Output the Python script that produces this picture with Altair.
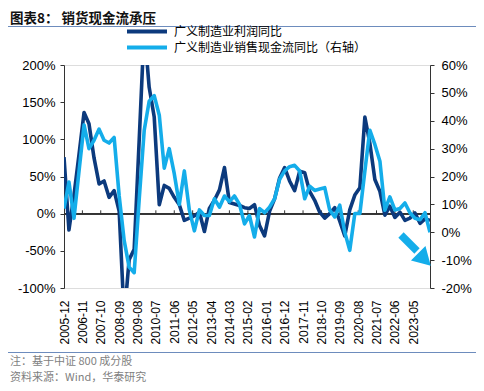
import altair as alt
import pandas as pd

# ---------------- data ----------------
series_names = ["广义制造业利润同比", "广义制造业销售现金流同比（右轴）"]

# quarterly, first point 2005-12
profit_yoy = [76, -22, 25, 80, 136, 121, 75, 40, 44, 22,
              31, 3, -140, -62, -48, 100, 250, 170, 130, 12,
              38, 34, 22, 12, -9, -6, -3, 2, -24, 7,
              18, 32, 62, 15, 13, 11, 8, 7, 12, -16,
              -30, 3, 20, 48, 62, 44, 31, 57, 55, 30,
              18, 2, -6, 0, 8, -10, -30, 5, 25, 35,
              130, 95, 46, 30, -2, 10, -5, 2, -9, -6,
              1, -13, -7, -9]

cashflow_yoy = [8.5, 18, 5, 22, 38.5, 30, 33, 37, 33, 32,
                34, 13, -3, -12.5, -14.5, 12, 36.6, 47, 49, 42,
                23, 30, 21, 10, 22, 8, 0.5, 8, 6, 6,
                12, 9, 13, 11, 13, 10, 3, 6, -1.7, 8.5,
                7, 9, 12, 19, 22, 23.5, 24, 22, 12, 16.5,
                15, 15.5, 16, 8, 5.5, 9.7, 0, -6.5, 6.7, 6.7,
                22, 36.6, 31.5, 25.5, 7.9, 12.7, 8, 8.5, 10.5, 7,
                5, 4.5, 7, 0]

tick_labels = ["2005-12", "2006-11", "2007-10", "2008-09", "2009-08",
               "2010-07", "2011-06", "2012-05", "2013-04", "2014-03",
               "2015-02", "2016-01", "2016-12", "2017-11", "2018-10",
               "2019-09", "2020-08", "2021-07", "2022-06", "2023-05"]

left_ticks = [-100, -50, 0, 50, 100, 150, 200]
right_ticks = [-20, -10, 0, 10, 20, 30, 40, 50, 60]

title_text = ["图表8：  销货现金流承压"]
note_source = ["注：基于中证 800 成分股"]
note_wind = ["资料来源：Wind，华泰研究"]

DARK = "#0c3a7d"
LIGHT = "#14adea"
AXIS = "#333333"
CJK = "Noto Sans CJK SC"
LATIN = "Liberation Sans"

# ---------------- build tables ----------------
dates = []
yy, mm = 2005, 12
for _ in range(len(profit_yoy)):
    dates.append(f"{yy:04d}-{mm:02d}-01")
    mm += 3
    if mm > 12:
        mm -= 12
        yy += 1


def to_ms(s):
    return int(pd.Timestamp(s, tz="UTC").value // 10**6)


df_p = pd.DataFrame({"date": dates, "value": profit_yoy, "series": series_names[0]})
df_c = pd.DataFrame({"date": dates, "value": cashflow_yoy, "series": series_names[1]})
tick_dates = [t + "-01" for t in tick_labels]
df_ticks = pd.DataFrame({"date": tick_dates[1:]})
tick_ms = [to_ms(d) for d in tick_dates]

x_scale = alt.Scale(type="utc", domain=[to_ms(dates[0]), to_ms(dates[-1])], nice=False)
x_axis = alt.Axis(values=tick_ms, labelExpr="utcFormat(datum.value, '%Y-%m')",
                  labelAngle=270, domain=False, ticks=False, grid=False,
                  labelPadding=12, labelFont=LATIN, labelFontSize=12,
                  labelColor="#000", labelOverlap=False, labelFlush=False, title=None)
x_enc = alt.X("date:T", scale=x_scale, axis=x_axis)

color_enc = alt.Color(
    "series:N",
    scale=alt.Scale(domain=series_names, range=[DARK, LIGHT]),
    legend=alt.Legend(orient="none", legendX=61, legendY=-40.5, direction="vertical",
                      symbolType="stroke", symbolSize=1600, symbolStrokeWidth=4,
                      clipHeight=14, rowPadding=2, labelFont=CJK, labelFontSize=12,
                      labelColor="#000", labelOffset=5, labelLimit=400, title=None,
                      padding=0),
)

left_axis = alt.Axis(values=left_ticks, labelExpr="datum.value + '%'", orient="left",
                     grid=False, domainColor=AXIS, tickColor=AXIS, tickSize=4,
                     labelPadding=5, labelFont=LATIN, labelFontSize=13,
                     labelColor="#000", title=None)
right_axis = alt.Axis(values=right_ticks, labelExpr="datum.value + '%'", orient="right",
                      grid=False, domainColor=AXIS, tickColor=AXIS, tickSize=4,
                      labelPadding=7, labelFont=LATIN, labelFontSize=13,
                      labelColor="#000", title=None)
left_scale = alt.Scale(domain=[-100, 200], nice=False)

dark_line = alt.Chart(df_p).mark_line(clip=True, strokeWidth=3.6, strokeJoin="round").encode(
    x=x_enc,
    y=alt.Y("value:Q", scale=left_scale, axis=left_axis),
    color=color_enc,
)
zero_rule = alt.Chart(df_ticks).mark_rule(color=AXIS, strokeWidth=1).encode(
    y=alt.Y(datum=0, scale=left_scale, axis=left_axis)
)
zero_ticks = alt.Chart(df_ticks).mark_rule(color=AXIS, strokeWidth=1).encode(
    x=x_enc,
    y=alt.Y(datum=0, scale=left_scale, axis=left_axis),
    y2=alt.Y2(datum=4.5),
)
left_layer = alt.layer(zero_rule, zero_ticks, dark_line)

light_line = alt.Chart(df_c).mark_line(clip=True, strokeWidth=3.6, strokeJoin="round").encode(
    x=x_enc,
    y=alt.Y("value:Q", scale=alt.Scale(domain=[-20, 60], nice=False), axis=right_axis),
    color=color_enc,
)

one = alt.Data(values=[{"k": 1}])
arrow_shaft = alt.Chart(one).mark_rule(color=LIGHT, strokeWidth=7.5, strokeCap="butt").encode(
    x=alt.value(337), y=alt.value(170), x2=alt.value(353), y2=alt.value(186)
)
arrow_head = alt.Chart(one).mark_point(shape="triangle", filled=True, color=LIGHT,
                                       opacity=1, size=420, angle=135).encode(
    x=alt.value(358.4), y=alt.value(192.4)
)

title_mark = alt.Chart(pd.DataFrame({"t": title_text})).mark_text(
    align="left", baseline="middle", font=CJK, fontWeight="bold", fontSize=13.5,
    color="#111111").encode(x=alt.value(-54), y=alt.value(-46.5), text="t:N")
top_rule = alt.Chart(one).mark_rule(color="#6d8cbd", strokeWidth=1).encode(
    x=alt.value(-56), x2=alt.value(412), y=alt.value(-38.5)
)
bottom_rule = alt.Chart(one).mark_rule(color="#6d8cbd", strokeWidth=1).encode(
    x=alt.value(-56), x2=alt.value(412), y=alt.value(287.5)
)
note1 = alt.Chart(pd.DataFrame({"t": note_source})).mark_text(
    align="left", baseline="middle", font=CJK, fontSize=11, color="#7f7f7f").encode(
    x=alt.value(-54), y=alt.value(296.5), text="t:N")
note2 = alt.Chart(pd.DataFrame({"t": note_wind})).mark_text(
    align="left", baseline="middle", font=CJK, fontSize=11, color="#7f7f7f").encode(
    x=alt.value(-54), y=alt.value(312.5), text="t:N")

right_layer = alt.layer(light_line, arrow_shaft, arrow_head, title_mark, top_rule,
                        bottom_rule, note1, note2)

chart = alt.layer(left_layer, right_layer).resolve_scale(
    y="independent"
).properties(
    width=366, height=223,
    autosize=alt.AutoSizeParams(type="none"),
    padding={"left": 56, "top": 57, "right": 46, "bottom": 95},
).configure_view(stroke=None).configure(background="white")

chart.save("out.html", embed_options={"renderer": "svg", "actions": False})
